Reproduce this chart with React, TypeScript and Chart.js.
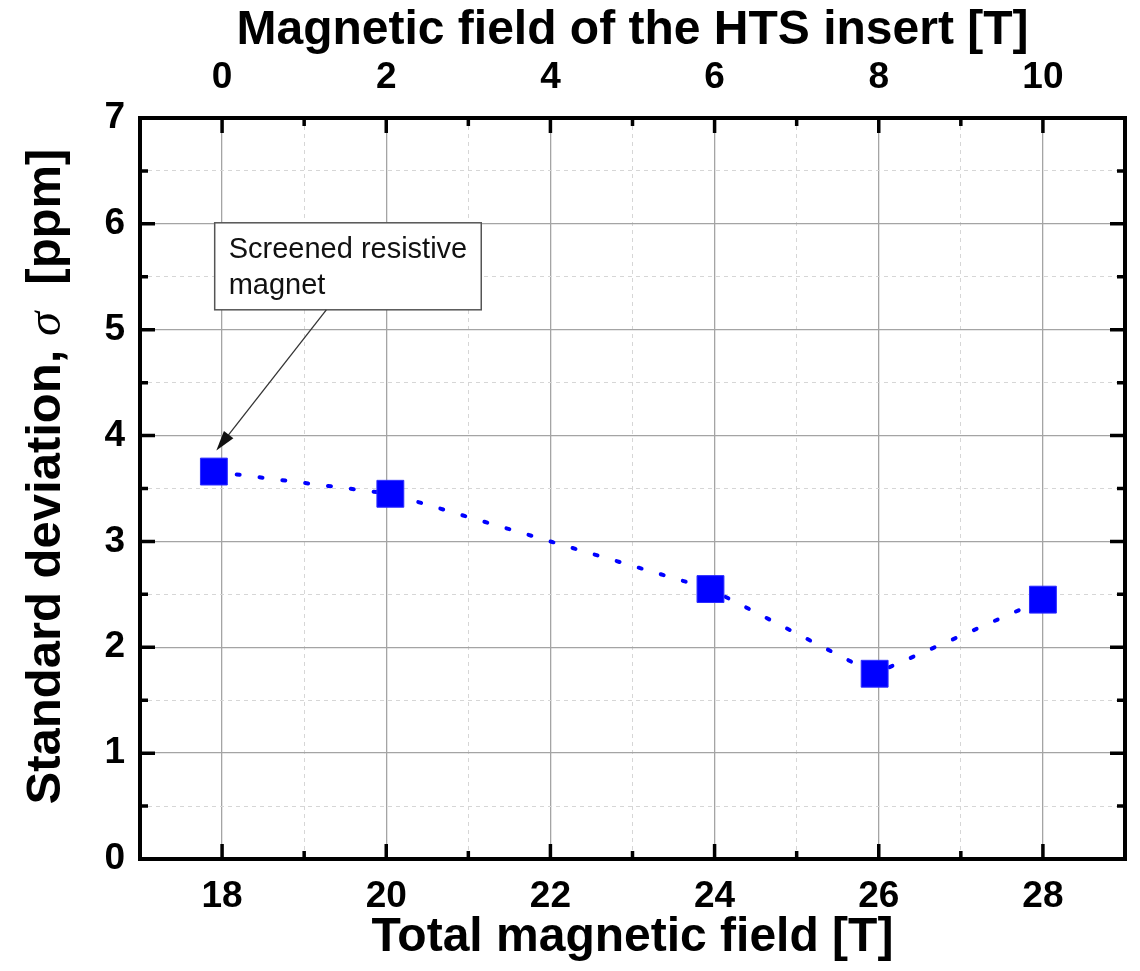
import React, { useEffect, useRef } from 'react';
import { Chart, registerables } from 'chart.js';

Chart.register(...registerables);

// ---- data ----
const totalField = [17.9, 20.05, 23.95, 25.95, 28.0];
const sigmaPpm = [3.66, 3.45, 2.55, 1.75, 2.45];
const bottomTickValues = [18, 20, 22, 24, 26, 28];
const topTickLabels = ['0', '2', '4', '6', '8', '10'];
const xMin = 17;
const xMax = 29;
const yMin = 0;
const yMax = 7;
const xTitle = 'Total magnetic field [T]';
const x2Title = 'Magnetic field of the HTS insert [T]';
const yTitleParts = ['Standard deviation, ', 'σ', '  [ppm]'];
const noteLines = ['Screened resistive', 'magnet'];
// annotation anchors in data coordinates
const noteBoxTopLeft = { x: 17.91, y: 6.01 };
const noteArrowStartX = 19.27;
const noteArrowTip = { x: 17.93, y: 3.86 };

const FONT = "'Liberation Sans', Arial, Helvetica, sans-serif";
const SERIF = "'Liberation Serif', 'Times New Roman', serif";

const isMajorX = (v: number) => bottomTickValues.includes(v);
const isMajorY = (v: number) => Math.abs(v - Math.round(v)) < 1e-6;

const zeroPadH = (s: any) => {
  s.paddingLeft = 0;
  s.paddingRight = 0;
};
const zeroPadV = (s: any) => {
  s.paddingTop = 0;
  s.paddingBottom = 0;
};

const decorPlugin = {
  id: 'decor',
  afterDatasetsDraw(chart: any) {
    const { ctx, chartArea: a, scales } = chart;
    const xs = scales.x;
    const ys = scales.y;
    ctx.save();

    // annotation box
    ctx.font = `29px ${FONT}`;
    const bx = xs.getPixelForValue(noteBoxTopLeft.x);
    const by = ys.getPixelForValue(noteBoxTopLeft.y);
    const tw = Math.max(...noteLines.map((l) => ctx.measureText(l).width));
    const bw = tw + 28;
    const bh = noteLines.length * 36 + 15;
    ctx.fillStyle = '#ffffff';
    ctx.fillRect(bx, by, bw, bh);
    ctx.strokeStyle = '#555';
    ctx.lineWidth = 1.5;
    ctx.strokeRect(bx, by, bw, bh);
    ctx.fillStyle = '#111';
    ctx.textBaseline = 'alphabetic';
    ctx.textAlign = 'left';
    noteLines.forEach((l, i) => ctx.fillText(l, bx + 14, by + 35 + i * 36));

    // arrow
    const sx = xs.getPixelForValue(noteArrowStartX);
    const sy = by + bh;
    const tx = xs.getPixelForValue(noteArrowTip.x);
    const ty = ys.getPixelForValue(noteArrowTip.y);
    const ang = Math.atan2(ty - sy, tx - sx);
    const hl = 20;
    const hw = 6;
    ctx.strokeStyle = '#333';
    ctx.lineWidth = 1.3;
    ctx.beginPath();
    ctx.moveTo(sx, sy);
    ctx.lineTo(tx - Math.cos(ang) * hl * 0.8, ty - Math.sin(ang) * hl * 0.8);
    ctx.stroke();
    ctx.fillStyle = '#111';
    ctx.beginPath();
    ctx.moveTo(tx, ty);
    ctx.lineTo(tx - Math.cos(ang) * hl - Math.sin(ang) * hw, ty - Math.sin(ang) * hl + Math.cos(ang) * hw);
    ctx.lineTo(tx - Math.cos(ang) * hl + Math.sin(ang) * hw, ty - Math.sin(ang) * hl - Math.cos(ang) * hw);
    ctx.closePath();
    ctx.fill();

    // inward tick marks
    ctx.strokeStyle = '#000';
    ctx.lineWidth = 3.5;
    ctx.lineCap = 'butt';
    ctx.beginPath();
    xs.ticks.forEach((t: any) => {
      const v = t.value;
      if (v <= xMin || v >= xMax) return;
      const px = xs.getPixelForValue(v);
      const len = isMajorX(v) ? 15 : 8;
      ctx.moveTo(px, a.bottom);
      ctx.lineTo(px, a.bottom - len);
      ctx.moveTo(px, a.top);
      ctx.lineTo(px, a.top + len);
    });
    ys.ticks.forEach((t: any) => {
      const v = t.value;
      if (v <= yMin || v >= yMax) return;
      const py = ys.getPixelForValue(v);
      const len = isMajorY(v) ? 15 : 8;
      ctx.moveTo(a.left, py);
      ctx.lineTo(a.left + len, py);
      ctx.moveTo(a.right, py);
      ctx.lineTo(a.right - len, py);
    });
    ctx.stroke();

    // frame
    ctx.lineWidth = 4;
    ctx.lineJoin = 'miter';
    ctx.strokeRect(a.left, a.top, a.right - a.left, a.bottom - a.top);

    // y-axis title with italic sigma
    const fonts = [`bold 49px ${FONT}`, `italic 49px ${SERIF}`, `bold 49px ${FONT}`];
    const widths = yTitleParts.map((p, i) => {
      ctx.font = fonts[i];
      return ctx.measureText(p).width;
    });
    const total = widths.reduce((s, w) => s + w, 0);
    const cy = (a.top + a.bottom) / 2 - 12;
    ctx.translate(60, cy);
    ctx.rotate(-Math.PI / 2);
    ctx.fillStyle = '#000';
    ctx.textBaseline = 'alphabetic';
    let u = -total / 2;
    yTitleParts.forEach((p, i) => {
      ctx.font = fonts[i];
      ctx.fillText(p, u, 0);
      u += widths[i];
    });
    ctx.restore();
  },
};

export default function App() {
  const ref = useRef<HTMLCanvasElement | null>(null);

  useEffect(() => {
    if (!ref.current) return;
    const tickFont = { family: FONT, size: 37, weight: 'bold' as const };
    const chart = new Chart(ref.current, {
      type: 'line',
      data: {
        datasets: [
          {
            data: totalField.map((x, i) => ({ x, y: sigmaPpm[i] })),
            borderColor: '#0000ff',
            borderWidth: 4,
            borderDash: [3, 20],
            borderCapStyle: 'round',
            tension: 0,
            fill: false,
            pointStyle: 'rect',
            pointRadius: 19,
            pointHoverRadius: 19,
            pointBackgroundColor: '#0000ff',
            pointBorderColor: '#2b2bff',
            pointBorderWidth: 1,
            xAxisID: 'x',
            yAxisID: 'y',
          },
        ],
      },
      options: {
        responsive: false,
        animation: false,
        devicePixelRatio: 1,
        layout: { padding: 0, autoPadding: false },
        plugins: { legend: { display: false }, tooltip: { enabled: false } },
        scales: {
          x: {
            type: 'linear',
            position: 'bottom',
            min: xMin,
            max: xMax,
            afterFit: (s: any) => {
              s.height = 112;
              zeroPadH(s);
            },
            ticks: {
              stepSize: 1,
              autoSkip: false,
              maxRotation: 0,
              padding: 16,
              color: '#000',
              font: tickFont,
              callback: (v: any) => (isMajorX(Number(v)) ? String(v) : ''),
            },
            grid: {
              drawTicks: false,
              color: (c: any) => {
                const v = c.tick ? c.tick.value : NaN;
                if (!(v > xMin && v < xMax)) return 'rgba(0,0,0,0)';
                return isMajorX(v) ? '#a4a4a4' : '#d6d6d6';
              },
              lineWidth: (c: any) => (c.tick && isMajorX(c.tick.value) ? 1.3 : 1),
            },
            border: {
              display: false,
              dash: (c: any) => (c.tick && !isMajorX(c.tick.value) ? [4, 4] : []),
            },
            title: {
              display: true,
              text: xTitle,
              color: '#000',
              font: { family: FONT, size: 48, weight: 'bold' },
              padding: { top: 0, bottom: 4 },
            },
          },
          x2: {
            type: 'linear',
            position: 'top',
            min: xMin,
            max: xMax,
            afterFit: (s: any) => {
              s.height = 118;
              zeroPadH(s);
            },
            ticks: {
              stepSize: 1,
              autoSkip: false,
              maxRotation: 0,
              padding: 18,
              color: '#000',
              font: tickFont,
              callback: (v: any) => {
                const i = bottomTickValues.indexOf(Number(v));
                return i >= 0 ? topTickLabels[i] : '';
              },
            },
            grid: { display: false, drawTicks: false },
            border: { display: false },
            title: {
              display: true,
              text: x2Title,
              color: '#000',
              font: { family: FONT, size: 48, weight: 'bold' },
              padding: { top: 2, bottom: 0 },
            },
          },
          y: {
            type: 'linear',
            position: 'left',
            min: yMin,
            max: yMax,
            afterFit: (s: any) => {
              s.width = 140;
              zeroPadV(s);
            },
            ticks: {
              stepSize: 0.5,
              autoSkip: false,
              padding: 15,
              color: '#000',
              font: tickFont,
              callback: (v: any) => (isMajorY(Number(v)) ? String(Math.round(Number(v))) : ''),
            },
            grid: {
              drawTicks: false,
              color: (c: any) => {
                const v = c.tick ? c.tick.value : NaN;
                if (!(v > yMin && v < yMax)) return 'rgba(0,0,0,0)';
                return isMajorY(v) ? '#a4a4a4' : '#d6d6d6';
              },
              lineWidth: (c: any) => (c.tick && isMajorY(c.tick.value) ? 1.3 : 1),
            },
            border: {
              display: false,
              dash: (c: any) => (c.tick && !isMajorY(c.tick.value) ? [4, 4] : []),
            },
          },
          y2: {
            type: 'linear',
            position: 'right',
            min: yMin,
            max: yMax,
            afterFit: (s: any) => {
              s.width = 15;
              zeroPadV(s);
            },
            ticks: { display: false, stepSize: 0.5 },
            grid: { display: false, drawTicks: false },
            border: { display: false },
          },
        },
      },
      plugins: [decorPlugin],
    });
    return () => chart.destroy();
  }, []);

  return (
    <div style={{ position: 'absolute', left: 0, top: 0, width: 1140, height: 971, background: '#fff' }}>
      <canvas ref={ref} width={1140} height={971} style={{ display: 'block' }} />
    </div>
  );
}
